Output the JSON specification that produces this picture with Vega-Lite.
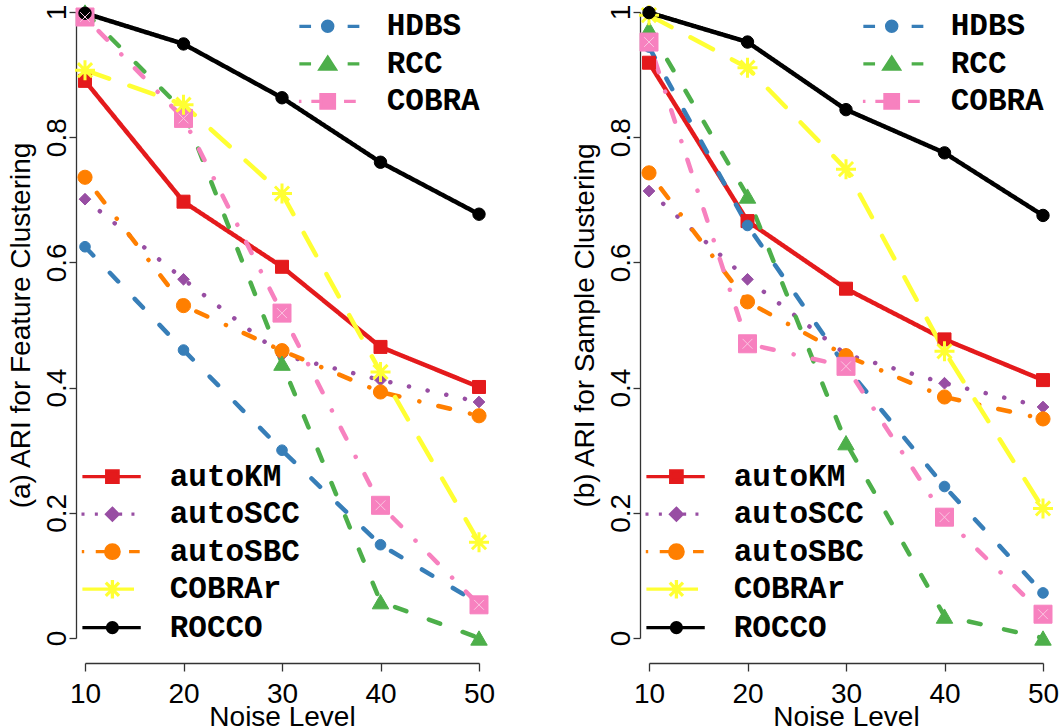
{
  "$schema": "https://vega.github.io/schema/vega-lite/v6.json",
  "padding": {"left": 6, "top": -1, "right": 0, "bottom": -5},
  "datasets": {
    "feat": [
      {"noise": 10, "ari": 0.890, "method": "autoKM"},
      {"noise": 20, "ari": 0.697, "method": "autoKM"},
      {"noise": 30, "ari": 0.593, "method": "autoKM"},
      {"noise": 40, "ari": 0.465, "method": "autoKM"},
      {"noise": 50, "ari": 0.401, "method": "autoKM"},
      {"noise": 10, "ari": 0.701, "method": "autoSCC"},
      {"noise": 20, "ari": 0.573, "method": "autoSCC"},
      {"noise": 30, "ari": 0.452, "method": "autoSCC"},
      {"noise": 40, "ari": 0.412, "method": "autoSCC"},
      {"noise": 50, "ari": 0.377, "method": "autoSCC"},
      {"noise": 10, "ari": 0.736, "method": "autoSBC"},
      {"noise": 20, "ari": 0.531, "method": "autoSBC"},
      {"noise": 30, "ari": 0.459, "method": "autoSBC"},
      {"noise": 40, "ari": 0.393, "method": "autoSBC"},
      {"noise": 50, "ari": 0.355, "method": "autoSBC"},
      {"noise": 10, "ari": 0.625, "method": "HDBS"},
      {"noise": 20, "ari": 0.460, "method": "HDBS"},
      {"noise": 30, "ari": 0.300, "method": "HDBS"},
      {"noise": 40, "ari": 0.149, "method": "HDBS"},
      {"noise": 50, "ari": 0.055, "method": "HDBS"},
      {"noise": 10, "ari": 1.000, "method": "RCC"},
      {"noise": 20, "ari": 0.842, "method": "RCC"},
      {"noise": 30, "ari": 0.439, "method": "RCC"},
      {"noise": 40, "ari": 0.058, "method": "RCC"},
      {"noise": 50, "ari": 0.000, "method": "RCC"},
      {"noise": 10, "ari": 0.992, "method": "COBRA"},
      {"noise": 20, "ari": 0.830, "method": "COBRA"},
      {"noise": 30, "ari": 0.519, "method": "COBRA"},
      {"noise": 40, "ari": 0.212, "method": "COBRA"},
      {"noise": 50, "ari": 0.053, "method": "COBRA"},
      {"noise": 10, "ari": 0.907, "method": "COBRAr"},
      {"noise": 20, "ari": 0.852, "method": "COBRAr"},
      {"noise": 30, "ari": 0.710, "method": "COBRAr"},
      {"noise": 40, "ari": 0.425, "method": "COBRAr"},
      {"noise": 50, "ari": 0.153, "method": "COBRAr"},
      {"noise": 10, "ari": 0.998, "method": "ROCCO"},
      {"noise": 20, "ari": 0.949, "method": "ROCCO"},
      {"noise": 30, "ari": 0.863, "method": "ROCCO"},
      {"noise": 40, "ari": 0.760, "method": "ROCCO"},
      {"noise": 50, "ari": 0.677, "method": "ROCCO"}
    ],
    "samp": [
      {"noise": 10, "ari": 0.919, "method": "autoKM"},
      {"noise": 20, "ari": 0.666, "method": "autoKM"},
      {"noise": 30, "ari": 0.558, "method": "autoKM"},
      {"noise": 40, "ari": 0.477, "method": "autoKM"},
      {"noise": 50, "ari": 0.412, "method": "autoKM"},
      {"noise": 10, "ari": 0.714, "method": "autoSCC"},
      {"noise": 20, "ari": 0.573, "method": "autoSCC"},
      {"noise": 30, "ari": 0.453, "method": "autoSCC"},
      {"noise": 40, "ari": 0.407, "method": "autoSCC"},
      {"noise": 50, "ari": 0.369, "method": "autoSCC"},
      {"noise": 10, "ari": 0.743, "method": "autoSBC"},
      {"noise": 20, "ari": 0.537, "method": "autoSBC"},
      {"noise": 30, "ari": 0.451, "method": "autoSBC"},
      {"noise": 40, "ari": 0.385, "method": "autoSBC"},
      {"noise": 50, "ari": 0.350, "method": "autoSBC"},
      {"noise": 10, "ari": 0.944, "method": "HDBS"},
      {"noise": 20, "ari": 0.659, "method": "HDBS"},
      {"noise": 30, "ari": 0.433, "method": "HDBS"},
      {"noise": 40, "ari": 0.242, "method": "HDBS"},
      {"noise": 50, "ari": 0.072, "method": "HDBS"},
      {"noise": 10, "ari": 0.973, "method": "RCC"},
      {"noise": 20, "ari": 0.706, "method": "RCC"},
      {"noise": 30, "ari": 0.312, "method": "RCC"},
      {"noise": 40, "ari": 0.035, "method": "RCC"},
      {"noise": 50, "ari": 0.000, "method": "RCC"},
      {"noise": 10, "ari": 0.952, "method": "COBRA"},
      {"noise": 20, "ari": 0.470, "method": "COBRA"},
      {"noise": 30, "ari": 0.434, "method": "COBRA"},
      {"noise": 40, "ari": 0.193, "method": "COBRA"},
      {"noise": 50, "ari": 0.038, "method": "COBRA"},
      {"noise": 10, "ari": 0.995, "method": "COBRAr"},
      {"noise": 20, "ari": 0.911, "method": "COBRAr"},
      {"noise": 30, "ari": 0.749, "method": "COBRAr"},
      {"noise": 40, "ari": 0.458, "method": "COBRAr"},
      {"noise": 50, "ari": 0.207, "method": "COBRAr"},
      {"noise": 10, "ari": 0.999, "method": "ROCCO"},
      {"noise": 20, "ari": 0.952, "method": "ROCCO"},
      {"noise": 30, "ari": 0.844, "method": "ROCCO"},
      {"noise": 40, "ari": 0.775, "method": "ROCCO"},
      {"noise": 50, "ari": 0.675, "method": "ROCCO"}
    ]
  },
  "spacing": 170,
  "bounds": "flush",
  "hconcat": [
    {
      "width": 394,
      "height": 626,
      "data": {"name": "feat"},
      "encoding": {
        "x": {"field": "noise", "type": "quantitative", "scale": {"domain": [10, 50], "nice": false, "zero": false},
              "axis": {"title": "Noise Level", "values": [10, 20, 30, 40, 50], "offset": 25, "tickSize": 8, "labelPadding": 9.6, "titlePadding": -5, "labelFlush": false, "labelOverlap": false}},
        "y": {"field": "ari", "type": "quantitative", "scale": {"domain": [0, 1], "nice": false, "zero": false},
              "axis": {"title": "(a) ARI for Feature Clustering", "values": [0, 0.2, 0.4, 0.6, 0.8, 1], "format": "~g", "offset": 9, "tickSize": 7, "labelAngle": -90, "labelAlign": "center", "labelBaseline": "alphabetic", "labelPadding": 4, "titlePadding": 8, "labelFlush": false, "labelOverlap": false}}
      },
      "layer": [
        {
          "transform": [{"filter": {"field": "method", "oneOf": ["HDBS", "RCC", "COBRA"]}}],
          "mark": {"type": "point", "filled": true, "opacity": 0},
          "encoding": {
            "shape": {"field": "method", "type": "nominal",
              "scale": {"domain": ["HDBS", "RCC", "COBRA"], "range": [
                "M-1.89,0H-1.11M1.33,0H2.11M0.34,0A0.34,0.34 0 1,1 -0.34,0A0.34,0.34 0 1,1 0.34,0Z",
                "M-1.89,0H-1.11M1.33,0H2.11M0,-0.42L0.5,0.36L-0.5,0.36Z",
                "M-1.92,0H-1.75M-1.09,0H-0.51M1.09,0H1.87M-0.45,-0.45H0.45V0.45H-0.45Z"]},
              "legend": {"orient": "none", "legendX": 225.7, "legendY": -2.7, "title": null, "padding": 0, "symbolSize": 900, "symbolStrokeWidth": 3.3, "symbolOffset": 0, "symbolOpacity": 1, "labelOffset": 42, "labelFont": "Liberation Mono", "labelFontWeight": "bold", "labelFontSize": 31, "labelColor": "#000000", "rowPadding": 5.5, "labelLimit": 400}},
            "fill": {"field": "method", "type": "nominal", "scale": {"domain": ["HDBS", "RCC", "COBRA"], "range": ["#377EB8", "#4DAF4A", "#F781BF"]},
              "legend": {"orient": "none", "legendX": 225.7, "legendY": -2.7, "title": null, "padding": 0, "symbolSize": 900, "symbolStrokeWidth": 3.3, "symbolOffset": 0, "symbolOpacity": 1, "labelOffset": 42, "labelFont": "Liberation Mono", "labelFontWeight": "bold", "labelFontSize": 31, "labelColor": "#000000", "rowPadding": 5.5, "labelLimit": 400}},
            "stroke": {"field": "method", "type": "nominal", "scale": {"domain": ["HDBS", "RCC", "COBRA"], "range": ["#377EB8", "#4DAF4A", "#F781BF"]},
              "legend": {"orient": "none", "legendX": 225.7, "legendY": -2.7, "title": null, "padding": 0, "symbolSize": 900, "symbolStrokeWidth": 3.3, "symbolOffset": 0, "symbolOpacity": 1, "labelOffset": 42, "labelFont": "Liberation Mono", "labelFontWeight": "bold", "labelFontSize": 31, "labelColor": "#000000", "rowPadding": 5.5, "labelLimit": 400}}
          }
        },
        {
          "transform": [{"filter": {"field": "method", "oneOf": ["autoKM", "autoSCC", "autoSBC", "COBRAr", "ROCCO"]}}],
          "mark": {"type": "point", "filled": true, "opacity": 0},
          "encoding": {
            "shape": {"field": "method", "type": "nominal",
              "scale": {"domain": ["autoKM", "autoSCC", "autoSBC", "COBRAr", "ROCCO"], "range": [
                "M-2,0H1.89M-0.38,-0.38H0.38V0.38H-0.38Z",
                "M-2.06,0H-1.86M-1.17,0H-0.97M0.45,0H0.65M1.27,0H1.47M0,-0.38L0.38,0L0,0.38L-0.38,0Z",
                "M-2.04,0H-1.88M-1.11,0H-0.4M1.11,0H1.82M0.45,0A0.45,0.45 0 1,1 -0.45,0A0.45,0.45 0 1,1 0.45,0Z",
                "M-2,0H1.44M0,-0.62V0.62M-0.62,0H0.62M-0.44,-0.44L0.44,0.44M-0.44,0.44L0.44,-0.44",
                "M-2,0H1.89M0.33,0A0.33,0.33 0 1,1 -0.33,0A0.33,0.33 0 1,1 0.33,0Z"]},
              "legend": {"orient": "none", "legendX": 10.4, "legendY": 447.7, "title": null, "padding": 0, "symbolSize": 900, "symbolStrokeWidth": 3.3, "symbolOffset": 0, "symbolOpacity": 1, "labelOffset": 40.3, "labelFont": "Liberation Mono", "labelFontWeight": "bold", "labelFontSize": 31, "labelColor": "#000000", "rowPadding": 5.5, "labelLimit": 400}},
            "fill": {"field": "method", "type": "nominal", "scale": {"domain": ["autoKM", "autoSCC", "autoSBC", "COBRAr", "ROCCO"], "range": ["#E41A1C", "#984EA3", "#FF7F00", "#FFFF33", "#000000"]},
              "legend": {"orient": "none", "legendX": 10.4, "legendY": 447.7, "title": null, "padding": 0, "symbolSize": 900, "symbolStrokeWidth": 3.3, "symbolOffset": 0, "symbolOpacity": 1, "labelOffset": 40.3, "labelFont": "Liberation Mono", "labelFontWeight": "bold", "labelFontSize": 31, "labelColor": "#000000", "rowPadding": 5.5, "labelLimit": 400}},
            "stroke": {"field": "method", "type": "nominal", "scale": {"domain": ["autoKM", "autoSCC", "autoSBC", "COBRAr", "ROCCO"], "range": ["#E41A1C", "#984EA3", "#FF7F00", "#FFFF33", "#000000"]},
              "legend": {"orient": "none", "legendX": 10.4, "legendY": 447.7, "title": null, "padding": 0, "symbolSize": 900, "symbolStrokeWidth": 3.3, "symbolOffset": 0, "symbolOpacity": 1, "labelOffset": 40.3, "labelFont": "Liberation Mono", "labelFontWeight": "bold", "labelFontSize": 31, "labelColor": "#000000", "rowPadding": 5.5, "labelLimit": 400}}
          }
        },
        {
          "mark": {"type": "line", "strokeWidth": 4.5, "strokeCap": "round", "strokeJoin": "round"},
          "encoding": {
            "color": {"field": "method", "type": "nominal", "scale": {"domain": ["autoKM", "autoSCC", "autoSBC", "HDBS", "RCC", "COBRA", "COBRAr", "ROCCO"], "range": ["#E41A1C", "#984EA3", "#FF7F00", "#377EB8", "#4DAF4A", "#F781BF", "#FFFF33", "#000000"]}, "legend": null},
            "strokeDash": {"field": "method", "type": "nominal", "scale": {"domain": ["autoKM", "autoSCC", "autoSBC", "HDBS", "RCC", "COBRA", "COBRAr", "ROCCO"], "range": [[1, 0], [0.1, 19], [0.1, 19.5, 12, 20.5], [12, 24], [12, 24], [0.1, 19.5, 12, 20.5], [25.5, 21.5], [1, 0]]}, "legend": null}
          }
        },
        {
          "mark": {"type": "point", "filled": true, "opacity": 1},
          "encoding": {
            "color": {"field": "method", "type": "nominal", "scale": {"domain": ["autoKM", "autoSCC", "autoSBC", "HDBS", "RCC", "COBRA", "COBRAr", "ROCCO"], "range": ["#E41A1C", "#984EA3", "#FF7F00", "#377EB8", "#4DAF4A", "#F781BF", "#FFFF33", "#000000"]}, "legend": null},
            "stroke": {"field": "method", "type": "nominal", "scale": {"domain": ["autoKM", "autoSCC", "autoSBC", "HDBS", "RCC", "COBRA", "COBRAr", "ROCCO"], "range": ["#E41A1C", "#984EA3", "#FF7F00", "#377EB8", "#4DAF4A", "#F781BF", "#FFFF33", "#000000"]}, "legend": null},
            "shape": {"field": "method", "type": "nominal", "scale": {"domain": ["autoKM", "autoSCC", "autoSBC", "HDBS", "RCC", "COBRA", "COBRAr", "ROCCO"], "range": ["square", "diamond", "circle", "circle", "triangle-up", "square", "M0,-1V1M-1,0H1M-0.707,-0.707L0.707,0.707M-0.707,0.707L0.707,-0.707", "circle"]}, "legend": null},
            "size": {"field": "method", "type": "nominal", "scale": {"type": "ordinal", "domain": ["autoKM", "autoSCC", "autoSBC", "HDBS", "RCC", "COBRA", "COBRAr", "ROCCO"], "range": [169, 137, 201, 113, 272, 324, 400, 154]}, "legend": null},
            "strokeWidth": {"field": "method", "type": "nominal", "scale": {"type": "ordinal", "domain": ["autoKM", "autoSCC", "autoSBC", "HDBS", "RCC", "COBRA", "COBRAr", "ROCCO"], "range": [1, 1, 1, 1, 1, 1, 3, 1]}, "legend": null}
          }
        },
        {
          "transform": [{"filter": {"field": "method", "equal": "COBRA"}}],
          "mark": {"type": "point", "shape": "M-0.7,-0.7L0.7,0.7M-0.7,0.7L0.7,-0.7", "filled": false, "color": "#FAC6E1", "strokeWidth": 1, "size": 196, "opacity": 1}
        }
      ],
      "resolve": {"scale": {"shape": "independent", "fill": "independent", "stroke": "independent"}, "legend": {"shape": "independent", "fill": "independent", "stroke": "independent"}}
    },
    {
      "width": 394,
      "height": 626,
      "data": {"name": "samp"},
      "encoding": {
        "x": {"field": "noise", "type": "quantitative", "scale": {"domain": [10, 50], "nice": false, "zero": false},
              "axis": {"title": "Noise Level", "values": [10, 20, 30, 40, 50], "offset": 25, "tickSize": 8, "labelPadding": 9.6, "titlePadding": -5, "labelFlush": false, "labelOverlap": false}},
        "y": {"field": "ari", "type": "quantitative", "scale": {"domain": [0, 1], "nice": false, "zero": false},
              "axis": {"title": "(b) ARI for Sample Clustering", "values": [0, 0.2, 0.4, 0.6, 0.8, 1], "format": "~g", "offset": 9, "tickSize": 7, "labelAngle": -90, "labelAlign": "center", "labelBaseline": "alphabetic", "labelPadding": 4, "titlePadding": 8, "labelFlush": false, "labelOverlap": false}}
      },
      "layer": [
        {
          "transform": [{"filter": {"field": "method", "oneOf": ["HDBS", "RCC", "COBRA"]}}],
          "mark": {"type": "point", "filled": true, "opacity": 0},
          "encoding": {
            "shape": {"field": "method", "type": "nominal",
              "scale": {"domain": ["HDBS", "RCC", "COBRA"], "range": [
                "M-1.89,0H-1.11M1.33,0H2.11M0.34,0A0.34,0.34 0 1,1 -0.34,0A0.34,0.34 0 1,1 0.34,0Z",
                "M-1.89,0H-1.11M1.33,0H2.11M0,-0.42L0.5,0.36L-0.5,0.36Z",
                "M-1.92,0H-1.75M-1.09,0H-0.51M1.09,0H1.87M-0.45,-0.45H0.45V0.45H-0.45Z"]},
              "legend": {"orient": "none", "legendX": 225.7, "legendY": -2.7, "title": null, "padding": 0, "symbolSize": 900, "symbolStrokeWidth": 3.3, "symbolOffset": 0, "symbolOpacity": 1, "labelOffset": 42, "labelFont": "Liberation Mono", "labelFontWeight": "bold", "labelFontSize": 31, "labelColor": "#000000", "rowPadding": 5.5, "labelLimit": 400}},
            "fill": {"field": "method", "type": "nominal", "scale": {"domain": ["HDBS", "RCC", "COBRA"], "range": ["#377EB8", "#4DAF4A", "#F781BF"]},
              "legend": {"orient": "none", "legendX": 225.7, "legendY": -2.7, "title": null, "padding": 0, "symbolSize": 900, "symbolStrokeWidth": 3.3, "symbolOffset": 0, "symbolOpacity": 1, "labelOffset": 42, "labelFont": "Liberation Mono", "labelFontWeight": "bold", "labelFontSize": 31, "labelColor": "#000000", "rowPadding": 5.5, "labelLimit": 400}},
            "stroke": {"field": "method", "type": "nominal", "scale": {"domain": ["HDBS", "RCC", "COBRA"], "range": ["#377EB8", "#4DAF4A", "#F781BF"]},
              "legend": {"orient": "none", "legendX": 225.7, "legendY": -2.7, "title": null, "padding": 0, "symbolSize": 900, "symbolStrokeWidth": 3.3, "symbolOffset": 0, "symbolOpacity": 1, "labelOffset": 42, "labelFont": "Liberation Mono", "labelFontWeight": "bold", "labelFontSize": 31, "labelColor": "#000000", "rowPadding": 5.5, "labelLimit": 400}}
          }
        },
        {
          "transform": [{"filter": {"field": "method", "oneOf": ["autoKM", "autoSCC", "autoSBC", "COBRAr", "ROCCO"]}}],
          "mark": {"type": "point", "filled": true, "opacity": 0},
          "encoding": {
            "shape": {"field": "method", "type": "nominal",
              "scale": {"domain": ["autoKM", "autoSCC", "autoSBC", "COBRAr", "ROCCO"], "range": [
                "M-2,0H1.89M-0.38,-0.38H0.38V0.38H-0.38Z",
                "M-2.06,0H-1.86M-1.17,0H-0.97M0.45,0H0.65M1.27,0H1.47M0,-0.38L0.38,0L0,0.38L-0.38,0Z",
                "M-2.04,0H-1.88M-1.11,0H-0.4M1.11,0H1.82M0.45,0A0.45,0.45 0 1,1 -0.45,0A0.45,0.45 0 1,1 0.45,0Z",
                "M-2,0H1.44M0,-0.62V0.62M-0.62,0H0.62M-0.44,-0.44L0.44,0.44M-0.44,0.44L0.44,-0.44",
                "M-2,0H1.89M0.33,0A0.33,0.33 0 1,1 -0.33,0A0.33,0.33 0 1,1 0.33,0Z"]},
              "legend": {"orient": "none", "legendX": 10.4, "legendY": 447.7, "title": null, "padding": 0, "symbolSize": 900, "symbolStrokeWidth": 3.3, "symbolOffset": 0, "symbolOpacity": 1, "labelOffset": 40.3, "labelFont": "Liberation Mono", "labelFontWeight": "bold", "labelFontSize": 31, "labelColor": "#000000", "rowPadding": 5.5, "labelLimit": 400}},
            "fill": {"field": "method", "type": "nominal", "scale": {"domain": ["autoKM", "autoSCC", "autoSBC", "COBRAr", "ROCCO"], "range": ["#E41A1C", "#984EA3", "#FF7F00", "#FFFF33", "#000000"]},
              "legend": {"orient": "none", "legendX": 10.4, "legendY": 447.7, "title": null, "padding": 0, "symbolSize": 900, "symbolStrokeWidth": 3.3, "symbolOffset": 0, "symbolOpacity": 1, "labelOffset": 40.3, "labelFont": "Liberation Mono", "labelFontWeight": "bold", "labelFontSize": 31, "labelColor": "#000000", "rowPadding": 5.5, "labelLimit": 400}},
            "stroke": {"field": "method", "type": "nominal", "scale": {"domain": ["autoKM", "autoSCC", "autoSBC", "COBRAr", "ROCCO"], "range": ["#E41A1C", "#984EA3", "#FF7F00", "#FFFF33", "#000000"]},
              "legend": {"orient": "none", "legendX": 10.4, "legendY": 447.7, "title": null, "padding": 0, "symbolSize": 900, "symbolStrokeWidth": 3.3, "symbolOffset": 0, "symbolOpacity": 1, "labelOffset": 40.3, "labelFont": "Liberation Mono", "labelFontWeight": "bold", "labelFontSize": 31, "labelColor": "#000000", "rowPadding": 5.5, "labelLimit": 400}}
          }
        },
        {
          "mark": {"type": "line", "strokeWidth": 4.5, "strokeCap": "round", "strokeJoin": "round"},
          "encoding": {
            "color": {"field": "method", "type": "nominal", "scale": {"domain": ["autoKM", "autoSCC", "autoSBC", "HDBS", "RCC", "COBRA", "COBRAr", "ROCCO"], "range": ["#E41A1C", "#984EA3", "#FF7F00", "#377EB8", "#4DAF4A", "#F781BF", "#FFFF33", "#000000"]}, "legend": null},
            "strokeDash": {"field": "method", "type": "nominal", "scale": {"domain": ["autoKM", "autoSCC", "autoSBC", "HDBS", "RCC", "COBRA", "COBRAr", "ROCCO"], "range": [[1, 0], [0.1, 19], [0.1, 19.5, 12, 20.5], [12, 24], [12, 24], [0.1, 19.5, 12, 20.5], [25.5, 21.5], [1, 0]]}, "legend": null}
          }
        },
        {
          "mark": {"type": "point", "filled": true, "opacity": 1},
          "encoding": {
            "color": {"field": "method", "type": "nominal", "scale": {"domain": ["autoKM", "autoSCC", "autoSBC", "HDBS", "RCC", "COBRA", "COBRAr", "ROCCO"], "range": ["#E41A1C", "#984EA3", "#FF7F00", "#377EB8", "#4DAF4A", "#F781BF", "#FFFF33", "#000000"]}, "legend": null},
            "stroke": {"field": "method", "type": "nominal", "scale": {"domain": ["autoKM", "autoSCC", "autoSBC", "HDBS", "RCC", "COBRA", "COBRAr", "ROCCO"], "range": ["#E41A1C", "#984EA3", "#FF7F00", "#377EB8", "#4DAF4A", "#F781BF", "#FFFF33", "#000000"]}, "legend": null},
            "shape": {"field": "method", "type": "nominal", "scale": {"domain": ["autoKM", "autoSCC", "autoSBC", "HDBS", "RCC", "COBRA", "COBRAr", "ROCCO"], "range": ["square", "diamond", "circle", "circle", "triangle-up", "square", "M0,-1V1M-1,0H1M-0.707,-0.707L0.707,0.707M-0.707,0.707L0.707,-0.707", "circle"]}, "legend": null},
            "size": {"field": "method", "type": "nominal", "scale": {"type": "ordinal", "domain": ["autoKM", "autoSCC", "autoSBC", "HDBS", "RCC", "COBRA", "COBRAr", "ROCCO"], "range": [169, 137, 201, 113, 272, 324, 400, 154]}, "legend": null},
            "strokeWidth": {"field": "method", "type": "nominal", "scale": {"type": "ordinal", "domain": ["autoKM", "autoSCC", "autoSBC", "HDBS", "RCC", "COBRA", "COBRAr", "ROCCO"], "range": [1, 1, 1, 1, 1, 1, 3, 1]}, "legend": null}
          }
        },
        {
          "transform": [{"filter": {"field": "method", "equal": "COBRA"}}],
          "mark": {"type": "point", "shape": "M-0.7,-0.7L0.7,0.7M-0.7,0.7L0.7,-0.7", "filled": false, "color": "#FAC6E1", "strokeWidth": 1, "size": 196, "opacity": 1}
        }
      ],
      "resolve": {"scale": {"shape": "independent", "fill": "independent", "stroke": "independent"}, "legend": {"shape": "independent", "fill": "independent", "stroke": "independent"}}
    }
  ],
  "resolve": {
    "scale": {"x": "independent", "y": "independent", "color": "independent", "shape": "independent", "size": "independent", "stroke": "independent", "fill": "independent", "strokeWidth": "independent", "strokeDash": "independent"},
    "legend": {"shape": "independent", "fill": "independent", "stroke": "independent"}
  },
  "config": {
    "view": {"stroke": null},
    "axis": {"labelFont": "Liberation Sans", "titleFont": "Liberation Sans", "labelFontSize": 28, "titleFontSize": 28, "titleFontWeight": "normal", "labelColor": "#000000", "titleColor": "#000000", "domainColor": "#333333", "tickColor": "#333333", "domainWidth": 1.3, "tickWidth": 1.3, "grid": false}
  }
}
